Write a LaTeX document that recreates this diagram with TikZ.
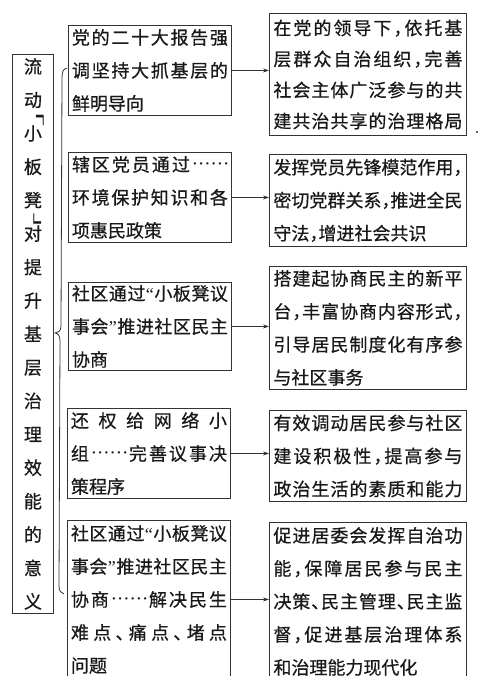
\documentclass[tikz,border=0pt]{standalone}
\usepackage{fontspec}
\newfontfamily\cjk[RawFeature={embolden=0.6}]{Noto Sans CJK SC}
\newfontfamily\latin{Liberation Serif}
\usetikzlibrary{arrows.meta}
\def\Jaux#1{\ifx#1\relax\else#1\hskip0pt plus1fil\expandafter\Jaux\fi}
\newcommand\J[1]{\makebox[\hsize][s]{\Jaux#1\relax\unskip}}
\newcommand\dou{\makebox[.5em][l]{，}}
\newcommand\dun{\makebox[.5em][l]{、}}
\newcommand\oq{{\latin “}}
\newcommand\cq{{\latin ”}}
\newcommand\sdot{\raisebox{.12em}{\scalebox{1.3}{$\cdot$}}}
\newcommand\dd{\makebox[2em][s]{\sdot\hfil\sdot\hfil\sdot\hfil\sdot\hfil\sdot\hfil\sdot}}
\tikzset{
  cjkfont/.style={font=\cjk\fontsize{18}{33}\selectfont},
  lbox/.style={draw=black!80, line width=.9pt, anchor=north west, minimum width=163pt,
    text width=156pt, inner xsep=3.5pt, inner ysep=0pt, align=left, cjkfont, text=black!90},
  rbox/.style={draw=black!80, line width=.9pt, anchor=north west, minimum width=197pt,
    text width=189pt, inner xsep=4pt, inner ysep=0pt, align=left, cjkfont, text=black!90},
  arr/.style={draw=black!80, line width=.7pt, -{Stealth[length=6pt,width=4pt]}},
  brk/.style={font=\cjk\fontsize{18}{18}\selectfont, inner sep=0pt, text=black!90}
}
\begin{document}
\begin{tikzpicture}[x=1pt,y=-1pt]
\useasboundingbox (0,0) rectangle (487,676);
\clip (0,0) rectangle (487,676);
\fill[white] (0,0) rectangle (487,676);

% title
\node[draw=black!80, line width=.9pt, anchor=north west, minimum width=41pt, minimum height=559pt,
  text width=20pt, inner sep=0pt, align=center, font=\cjk\fontsize{18}{33.44}\selectfont, text=black!90]
  (T) at (12,54) {流\\动\\小\\板\\凳\\对\\提\\升\\基\\层\\治\\理\\效\\能\\的\\意\\义};
\node[brk] (b1) at (38.5,120) {\scalebox{.6}[1.8]{﹁}};
\node[brk] (b2) at (38.5,219.5) {\raisebox{-14.6pt}[12.9pt][0pt]{\scalebox{.6}[1.8]{﹂}}};

% brace
\draw[black!80, line width=.8pt] (67,68) .. controls (63,69) and (62,72) .. (62,78) -- (61,326)
  .. controls (61,331) and (58,333) .. (55,333) .. controls (58,333) and (60,336) .. (60,341)
  -- (59,586) .. controls (59,591) and (61,593) .. (64,594);

% left column
\node[lbox, minimum height=90pt] (L1) at (68,25)
  {\J{党的二十大报告强}\\\J{调坚持大抓基层的}\\鲜明导向};
\node[lbox, minimum height=90pt] (L2) at (68,152)
  {\J{辖区党员通过\dd}\\\J{环境保护知识和各}\\项惠民政策};
\node[lbox, minimum height=88pt] (L3) at (68,282)
  {\J{社区通过\oq 小板凳议}\\\J{事会\cq 推进社区民主}\\协商};
\node[lbox, minimum height=90pt] (L4) at (67,408)
  {\J{还权给网络小}\\\J{组\dd 完善议事决}\\策程序};
\node[lbox, minimum height=158pt] (L5) at (67,520)
  {\J{社区通过\oq 小板凳议}\\\J{事会\cq 推进社区民主}\\\J{协商\dd 解决民生}\\\J{难点\dun 痛点\dun 堵点}\\问题};

% right column
\node[rbox, minimum height=122pt, font=\cjk\fontsize{18}{31}\selectfont] (R1) at (269,13)
  {\J{在党的领导下\dou 依托基}\\\J{层群众自治组织\dou 完善}\\\J{社会主体广泛参与的共}\\\J{建共治共享的治理格局}};
\node[rbox, minimum height=92pt] (R2) at (269,154)
  {\J{发挥党员先锋模范作用\dou}\\\J{密切党群关系\dou 推进全民}\\守法\dou 增进社会共识};
\node[rbox, minimum height=123pt] (R3) at (269,266)
  {\J{搭建起协商民主的新平}\\\J{台\dou 丰富协商内容形式\dou}\\\J{引导居民制度化有序参}\\与社区事务};
\node[rbox, minimum height=91pt, minimum width=196pt] (R4) at (269,410)
  {\J{有效调动居民参与社区}\\\J{建设积极性\dou 提高参与}\\\J{政治生活的素质和能力}};
\node[rbox, minimum height=158pt, minimum width=196pt] (R5) at (269,522)
  {\J{促进居委会发挥自治功}\\\J{能\dou 保障居民参与民主}\\\J{决策\dun 民主管理\dun 民主监}\\\J{督\dou 促进基层治理体系}\\和治理能力现代化};

% arrows
\foreach \i in {1,...,5} {\draw[arr] (L\i.east) -- (L\i.east -| R\i.west);}

% stray dot
\fill[black!80] (477,132) circle (1.1);
\end{tikzpicture}
\end{document}
